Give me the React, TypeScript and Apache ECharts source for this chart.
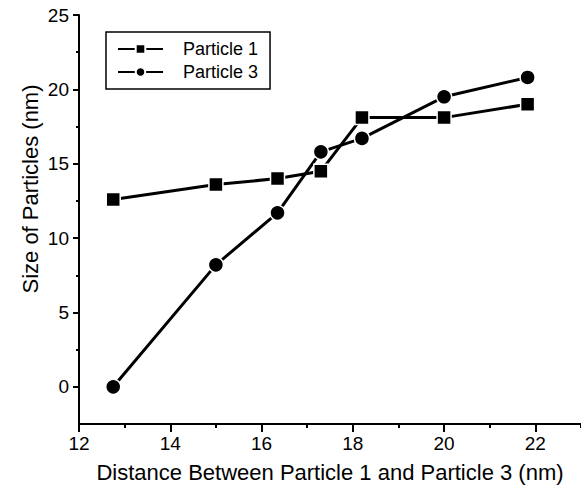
import React, { useEffect, useRef } from "react";
import * as echarts from "echarts";

const distances = [12.75, 15.0, 16.35, 17.3, 18.2, 20.0, 21.83];
const particle1 = [12.6, 13.6, 14.0, 14.5, 18.1, 18.1, 19.0];
const particle3 = [0, 8.2, 11.7, 15.8, 16.7, 19.5, 20.8];
const seriesNames = ["Particle 1", "Particle 3"];
const yMajorTicks = [0, 5, 10, 15, 20, 25];
const yMinorTicks = [2.5, 7.5, 12.5, 17.5, 22.5];
const xLabelTicks = [12, 14, 16, 18, 20, 22];

const FONT = "'Liberation Sans', Arial, sans-serif";

export default function App() {
  const ref = useRef<HTMLDivElement>(null);
  useEffect(() => {
    if (!ref.current) return;
    const chart = echarts.init(ref.current, null, { renderer: "svg" });
    const axisLine = { show: true, onZero: false, lineStyle: { color: "#000", width: 2 } };
    const mk = (vals: number[]) => distances.map((d, i) => [d, vals[i]]);
    chart.setOption({
      animation: false,
      backgroundColor: "#fff",
      textStyle: { fontFamily: FONT },
      grid: { left: 79, right: 0, top: 15, bottom: 68, containLabel: false },
      legend: {
        data: seriesNames,
        orient: "vertical",
        left: 106,
        top: 32,
        padding: [8, 12, 8, 11],
        itemGap: 5,
        itemWidth: 45,
        itemHeight: 12,
        borderColor: "#000",
        borderWidth: 1.5,
        borderRadius: 0,
        textStyle: { fontSize: 18, fontFamily: FONT, color: "#000", padding: [0, 0, 0, 15] },
      },
      xAxis: [
        {
          type: "value",
          position: "bottom",
          min: 12,
          max: 23,
          interval: 1,
          axisLine,
          axisTick: { show: true, length: 4, lineStyle: { color: "#000", width: 2 } },
          axisLabel: { show: false },
          splitLine: { show: false },
        },
        {
          type: "value",
          position: "bottom",
          min: 12,
          max: 23,
          interval: 2,
          axisLine: { show: false, onZero: false },
          axisTick: { show: true, length: 8, customValues: xLabelTicks, lineStyle: { color: "#000", width: 2 } },
          axisLabel: {
            show: true,
            customValues: xLabelTicks,
            fontSize: 19,
            fontFamily: FONT,
            color: "#000",
            margin: 10,
            formatter: (v: number) => (v <= 22 ? String(v) : ""),
          },
          splitLine: { show: false },
          name: "Distance Between Particle 1 and Particle 3 (nm)",
          nameLocation: "middle",
          nameGap: 37,
          nameTextStyle: { fontSize: 22, fontFamily: FONT, color: "#000" },
        },
      ],
      yAxis: [
        {
          type: "value",
          position: "left",
          min: -2.5,
          max: 25,
          interval: 2.5,
          axisLine,
          axisTick: { show: true, length: 3, customValues: yMinorTicks, lineStyle: { color: "#000", width: 2 } },
          axisLabel: { show: false },
          splitLine: { show: false },
        },
        {
          type: "value",
          position: "left",
          offset: 0,
          min: -2.5,
          max: 25,
          interval: 2.5,
          axisLine: { show: false, onZero: false },
          axisTick: { show: true, length: 6, customValues: yMajorTicks, lineStyle: { color: "#000", width: 2 } },
          axisLabel: {
            show: true,
            customValues: yMajorTicks,
            fontSize: 19,
            fontFamily: FONT,
            color: "#000",
            margin: 10,
          },
          splitLine: { show: false },
        },
      ],
      graphic: [
        {
          type: "text",
          x: 30,
          y: 189,
          rotation: Math.PI / 2,
          style: {
            text: "Size of Particles (nm)",
            fontSize: 22,
            fontFamily: FONT,
            fill: "#000",
            textAlign: "center",
            textVerticalAlign: "middle",
          },
        },
      ],
      series: [
        {
          name: seriesNames[0],
          type: "line",
          xAxisIndex: 0,
          yAxisIndex: 0,
          data: mk(particle1),
          symbol: "rect",
          symbolSize: 14,
          lineStyle: { color: "#000", width: 3 },
          itemStyle: { color: "#000", borderColor: "#fff", borderWidth: 1.5 },
        },
        {
          name: seriesNames[1],
          type: "line",
          xAxisIndex: 0,
          yAxisIndex: 0,
          data: mk(particle3),
          symbol: "circle",
          symbolSize: 15,
          lineStyle: { color: "#000", width: 3 },
          itemStyle: { color: "#000", borderColor: "#fff", borderWidth: 1.5 },
        },
      ],
    });
    return () => chart.dispose();
  }, []);
  return (
    <div
      ref={ref}
      style={{ position: "fixed", left: 0, top: 0, width: 581, height: 492, background: "#fff" }}
    />
  );
}
